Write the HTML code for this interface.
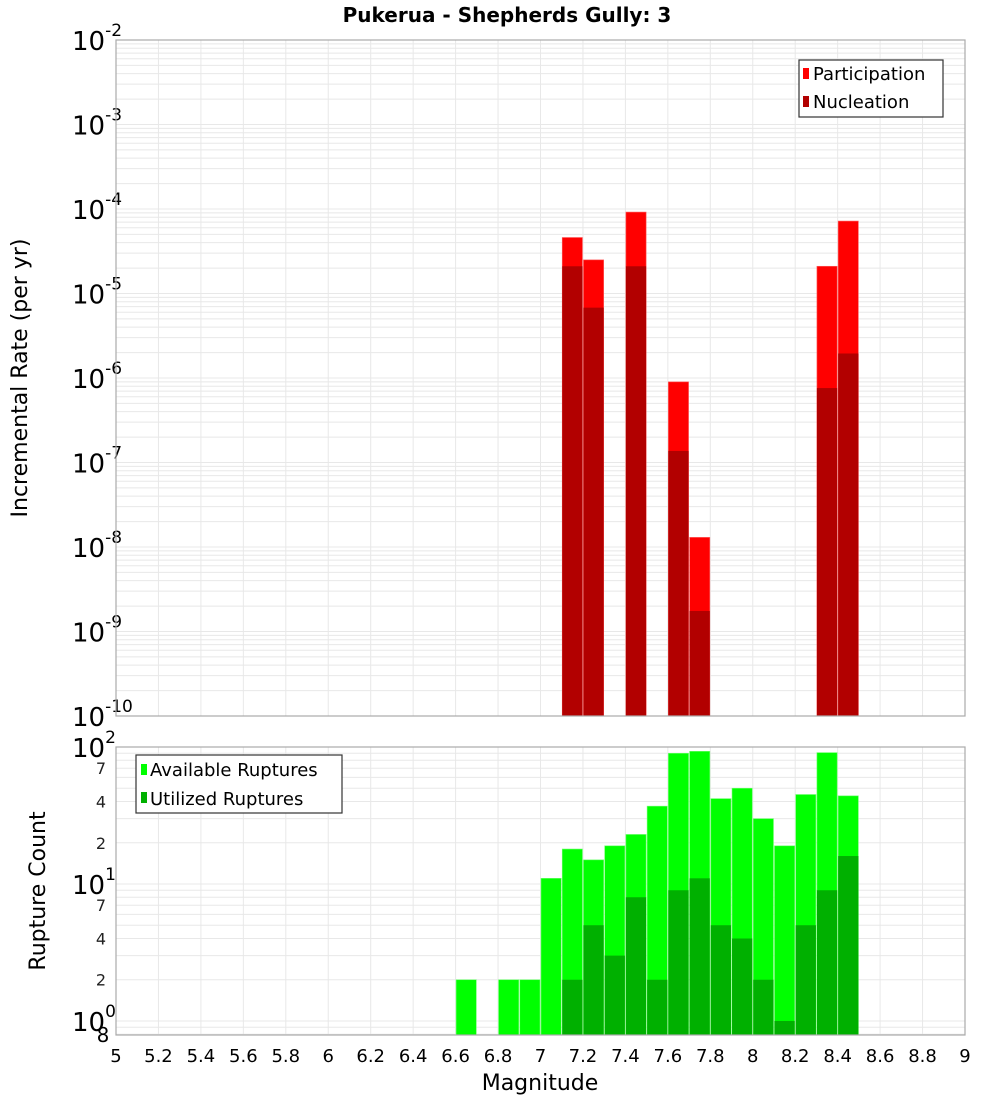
<!DOCTYPE html>
<html><head><meta charset="utf-8"><style>
html,body{margin:0;padding:0;background:#fff;}
svg{display:block;font-family:"DejaVu Sans","Liberation Sans",sans-serif;}
</style></head><body>
<svg id="chart" width="1000" height="1100" xmlns="http://www.w3.org/2000/svg">
<text x="507" y="22" text-anchor="middle" font-size="20" font-weight="bold">Pukerua - Shepherds Gully: 3</text>
<g id="topPlot"></g>
<g id="botPlot"></g>
<g id="frames"></g>
<text transform="translate(27,378) rotate(-90)" text-anchor="middle" font-size="22">Incremental Rate (per yr)</text>
<text transform="translate(45,891) rotate(-90)" text-anchor="middle" font-size="22">Rupture Count</text>
<text x="540" y="1090" text-anchor="middle" font-size="22">Magnitude</text>
<g>
<rect x="799" y="60" width="144" height="57" fill="#fff" stroke="#333" stroke-width="1.2"/>
<rect x="803" y="68" width="6" height="11" fill="#ff0000"/>
<text x="813" y="80" font-size="18">Participation</text>
<rect x="803" y="96" width="6" height="11" fill="#b20000"/>
<text x="813" y="108" font-size="18">Nucleation</text>
</g>
<g>
<rect x="136" y="755" width="206" height="58" fill="#fff" stroke="#333" stroke-width="1.2"/>
<rect x="141" y="764" width="6" height="11" fill="#00ff00"/>
<text x="150" y="776" font-size="18">Available Ruptures</text>
<rect x="141" y="792" width="6" height="11" fill="#00b000"/>
<text x="150" y="805" font-size="18">Utilized Ruptures</text>
</g>
</svg>
<script>
const rateMags=[7.15,7.25,7.45,7.65,7.75,8.35,8.45];
const participation=[4.6e-5,2.5e-5,9.2e-5,9e-7,1.3e-8,2.1e-5,7.2e-5];
const nucleation=[2.1e-5,6.8e-6,2.1e-5,1.37e-7,1.75e-9,7.6e-7,1.95e-6];
const countMags=[6.65,6.85,6.95,7.05,7.15,7.25,7.35,7.45,7.55,7.65,7.75,7.85,7.95,8.05,8.15,8.25,8.35,8.45];
const available=[2,2,2,11,18,15,19,23,37,90,93,42,50,30,19,45,91,44];
const utilized=[0,0,0,0,2,5,3,8,2,9,11,5,4,2,1,5,9,16];
const xTicks=[5,5.2,5.4,5.6,5.8,6,6.2,6.4,6.6,6.8,7,7.2,7.4,7.6,7.8,8,8.2,8.4,8.6,8.8,9];
const rateExps=[-10,-9,-8,-7,-6,-5,-4,-3,-2];
const countMinorLabels=[2,4,7];
{
const NS="http://www.w3.org/2000/svg";
const L=116,R=965;
const X=m=>L+(m-5)/4*(R-L);
const T0=40,T1=716;
const YT=v=>T1-(Math.log10(v)+10)/8*(T1-T0);
const B0=747,B1=1035,BMIN=0.79;
const YB=v=>B1-(Math.log10(v)-Math.log10(BMIN))/(2-Math.log10(BMIN))*(B1-B0);
function el(p,tag,a,txt){const e=document.createElementNS(NS,tag);for(const k in a)e.setAttribute(k,a[k]);if(txt!==undefined)e.textContent=txt;p.appendChild(e);return e;}
const topG=document.getElementById('topPlot'),botG=document.getElementById('botPlot'),frG=document.getElementById('frames');
const bw=(R-L)/40;

function frame(g,y0,y1,yf,lo,hi,minLo){
  el(g,'rect',{x:L,y:y0,width:R-L,height:y1-y0,fill:'#fff'});
  const grid=el(g,'g',{stroke:'#e8e8e8','stroke-width':1});
  
  
  xTicks.forEach(t=>el(grid,'line',{x1:X(t),x2:X(t),y1:y0,y2:y1}));
  for(let e=lo;e<hi;e++)for(let k=1;k<10;k++){const v=k*Math.pow(10,e);if(v<minLo)continue;const y=yf(v);if(y<y0-0.5||y>y1+0.5)continue;el(grid,'line',{x1:L,x2:R,y1:y,y2:y});}
}
frame(topG,T0,T1,YT,-10,-2,1e-10);
frame(botG,B0,B1,YB,-1,2,BMIN);

rateMags.forEach((m,i)=>{
  const x=X(m)-bw/2+0.5,w=bw-1;
  const p=el(topG,'rect',{x:x,y:YT(participation[i]),width:w,height:T1-YT(participation[i]),fill:'#ff0000',stroke:'#ff6060','stroke-width':0.6});
  
  
  const n=el(topG,'rect',{x:x,y:YT(nucleation[i]),width:w,height:T1-YT(nucleation[i]),fill:'#b20000'});
  
  
});
countMags.forEach((m,i)=>{
  const x=X(m)-bw/2+0.5,w=bw-1;
  const a=el(botG,'rect',{x:x,y:YB(available[i]),width:w,height:B1-YB(available[i]),fill:'#00ff00',stroke:'#70ff70','stroke-width':0.6});
  
  
  if(utilized[i]>0){
    const u=el(botG,'rect',{x:x,y:YB(utilized[i]),width:w,height:B1-YB(utilized[i]),fill:'#00b000'});
    
    
  }
});
[[T0,T1],[B0,B1]].forEach(([a,b])=>el(frG,'rect',{x:L,y:a,width:R-L,height:b-a,fill:'none',stroke:'#aaa','stroke-width':1.2}));

rateExps.forEach(e=>{
  const y=YT(Math.pow(10,e));
  const t=el(topG,'text',{x:72,y:y+10,'font-size':26});
  
  
  el(t,'tspan',{},'10');
  el(t,'tspan',{dy:-14,'font-size':17},String(e));
});
[0,1,2].forEach(e=>{
  const y=YB(Math.pow(10,e));
  const t=el(botG,'text',{x:72,y:y+10,'font-size':26});
  
  
  el(t,'tspan',{},'10');
  el(t,'tspan',{dy:-14,'font-size':17},String(e));
});
[0,1].forEach(e=>countMinorLabels.forEach(k=>{
  const t=el(botG,'text',{x:106,y:YB(k*Math.pow(10,e))+6,'font-size':16,'text-anchor':'end',fill:'#222'},String(k));
  
  
}));
{const t=el(botG,'text',{x:103,y:1042,'font-size':20,'text-anchor':'middle'},'8');

}
xTicks.forEach(v=>{
  const t=el(botG,'text',{x:X(v),y:1062,'font-size':18,'text-anchor':'middle'},String(v));
  
  
});
}
</script>
</body></html>
